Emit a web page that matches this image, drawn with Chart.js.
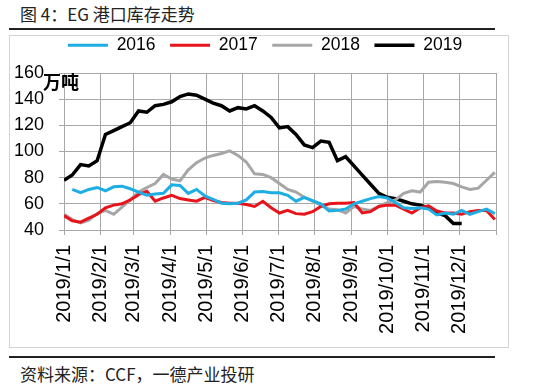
<!DOCTYPE html>
<html>
<head>
<meta charset="utf-8">
<script src="https://cdn.jsdelivr.net/npm/chart.js"></script>
<style>
  body { margin: 0; width: 550px; height: 388px; background: #fff; position: relative; overflow: hidden; font-family: "Noto Sans CJK SC", sans-serif; }
  #title { position: absolute; left: 20px; top: 4px; font-size: 17px; line-height: 20px; color: #222; }
  .rule { position: absolute; left: 9px; width: 486px; height: 2px; background: #222; }
  #frame { position: absolute; left: 9px; top: 35px; width: 498px; height: 311px; border: 1px solid #d4d4d4; }
  #wrap { position: absolute; left: 0; top: 20px; width: 530px; height: 327px; }
  #unit { position: absolute; left: 43px; top: 71px; font-size: 18px; line-height: 20px; font-weight: bold; color: #000; }
  #source { position: absolute; left: 20px; top: 364px; font-size: 17px; line-height: 20px; color: #222; }
</style>
</head>
<body>
<div id="title">图 4：EG 港口库存走势</div>
<div class="rule" style="top:28px"></div>
<div id="frame"></div>
<div id="wrap"><canvas id="chart"></canvas></div>
<div id="unit">万吨</div>
<div class="rule" style="top:356px"></div>
<div id="source">资料来源：CCF，一德产业投研</div>
<script>
// day of year for each weekly reading
var days = [0, 7, 14, 21, 28, 35, 42, 49, 56, 63, 70, 77, 84, 91, 98, 105, 112, 119, 126, 133,
  140, 147, 154, 161, 168, 175, 182, 189, 196, 203, 210, 217, 224, 231, 238, 245, 252, 259, 266, 273,
  280, 287, 294, 301, 308, 315, 322, 329, 336, 343, 350, 357, 364];

var s2016 = [null, 71, 68.5, 71, 72.5, 70, 73, 73.5, 71.5, 69, 66.5, 67.5, 68, 74.5, 74, 68, 71, 66, 63.5, 60.5,
  60, 60.5, 63, 69, 69.5, 68.5, 68.5, 66.5, 62, 65, 62.5, 60, 54.5, 55, 56, 60, 62, 64, 65.5, 64.5,
  61, 57, 56.5, 57, 56, 51.5, 53, 52, 55, 52, 54, 56, 52.5];
var s2017 = [51, 47, 46, 49, 52, 57, 59, 60, 63, 67, 69.5, 62, 64.5, 66.5, 64, 63, 62, 65, 62.5, 61,
  60.5, 60.5, 59.5, 58, 62, 57, 53, 55, 52.5, 52, 54, 58, 60, 60.5, 60.5, 61, 53, 54, 58, 59,
  59, 56, 53, 57, 58.5, 54.5, 53, 53, 52, 54, 55, 55, 48];
var s2018 = [52, 48, 45.5, 47.5, 52.5, 55, 52, 57.5, 63, 69, 72.5, 75.5, 82.5, 79, 77.5, 86, 91.5, 95, 97, 98.5,
  100.5, 97, 92, 83, 82.5, 80, 75.5, 71, 69, 65, 62, 59, 56, 55.5, 53, 58, 56, 55, 58, 61,
  63, 68, 70, 69, 76.5, 77, 76.5, 75.5, 73, 71, 72, 78, 84];
var s2019 = [78, 82, 90, 89, 93, 113, 116, 119, 122, 131, 130, 135, 136, 138, 142, 144, 143, 140, 137, 135,
  131, 133.5, 132.5, 135, 131, 126, 118, 119, 113, 105, 103, 108, 107, 93, 96, 89, 82, 75, 68, 65,
  64, 62, 60, 59, 57, 53, 51, 45, 45, null, null, null, null];

var monthDays = [0, 31, 59, 90, 120, 151, 181, 212, 243, 273, 304, 334, 365];
var monthLabels = ['2019/1/1', '2019/2/1', '2019/3/1', '2019/4/1', '2019/5/1', '2019/6/1',
  '2019/7/1', '2019/8/1', '2019/9/1', '2019/10/1', '2019/11/1', '2019/12/1', ''];

function points(values) {
  return days.map(function (d, i) { return { x: d, y: values[i] }; });
}

// fixed legend height, and legend nudged a little like the original
var legendTweak = {
  id: 'legendTweak',
  afterInit: function (chart) {
    var legend = chart.legend;
    var fit = legend.fit;
    legend.fit = function () {
      fit.call(this);
      this.height = 53;
    };
    var draw = legend.draw;
    legend.draw = function () {
      this.left += 20;
      this.top += 2;
      draw.call(this);
      this.left -= 20;
      this.top -= 2;
    };
  }
};

var gridColor = '#a8a8a8';

new Chart(document.getElementById('chart'), {
  type: 'line',
  data: {
    datasets: [
      { label: '2016', data: points(s2016), borderColor: '#1eaee4', backgroundColor: '#1eaee4', borderWidth: 3 },
      { label: '2017', data: points(s2017), borderColor: '#e8141c', backgroundColor: '#e8141c', borderWidth: 3 },
      { label: '2018', data: points(s2018), borderColor: '#a6a6a6', backgroundColor: '#a6a6a6', borderWidth: 3 },
      { label: '2019', data: points(s2019), borderColor: '#000000', backgroundColor: '#000000', borderWidth: 3.5 }
    ]
  },
  options: {
    responsive: true,
    maintainAspectRatio: false,
    animation: false,
    layout: { padding: { left: 10, right: 30, top: 0, bottom: 0 } },
    elements: { point: { radius: 0 }, line: { tension: 0 } },
    plugins: {
      legend: {
        position: 'top',
        labels: {
          usePointStyle: true, pointStyle: 'line', pointStyleWidth: 40, boxHeight: 17,
          padding: 14.5, color: '#000',
          font: { family: 'Liberation Sans', size: 17.5 }
        }
      },
      tooltip: { enabled: false }
    },
    scales: {
      x: {
        type: 'linear', min: 0, max: 365,
        afterBuildTicks: function (axis) {
          axis.ticks = monthDays.map(function (d) { return { value: d }; });
        },
        afterFit: function (axis) { axis.height = 117; },
        grid: { color: gridColor, tickLength: 5 },
        border: { color: gridColor },
        ticks: {
          autoSkip: false, minRotation: 90, maxRotation: 90, padding: 10, color: '#000',
          font: { family: 'Liberation Sans', size: 20 },
          callback: function (value, index) { return monthLabels[index]; }
        }
      },
      y: {
        min: 40, max: 160,
        afterFit: function (axis) { axis.width = 54; },
        grid: { color: gridColor, tickLength: 5 },
        border: { color: gridColor },
        ticks: { stepSize: 20, padding: 15, color: '#000', font: { family: 'Liberation Sans', size: 18 } }
      }
    }
  },
  plugins: [legendTweak]
});
</script>
</body>
</html>
